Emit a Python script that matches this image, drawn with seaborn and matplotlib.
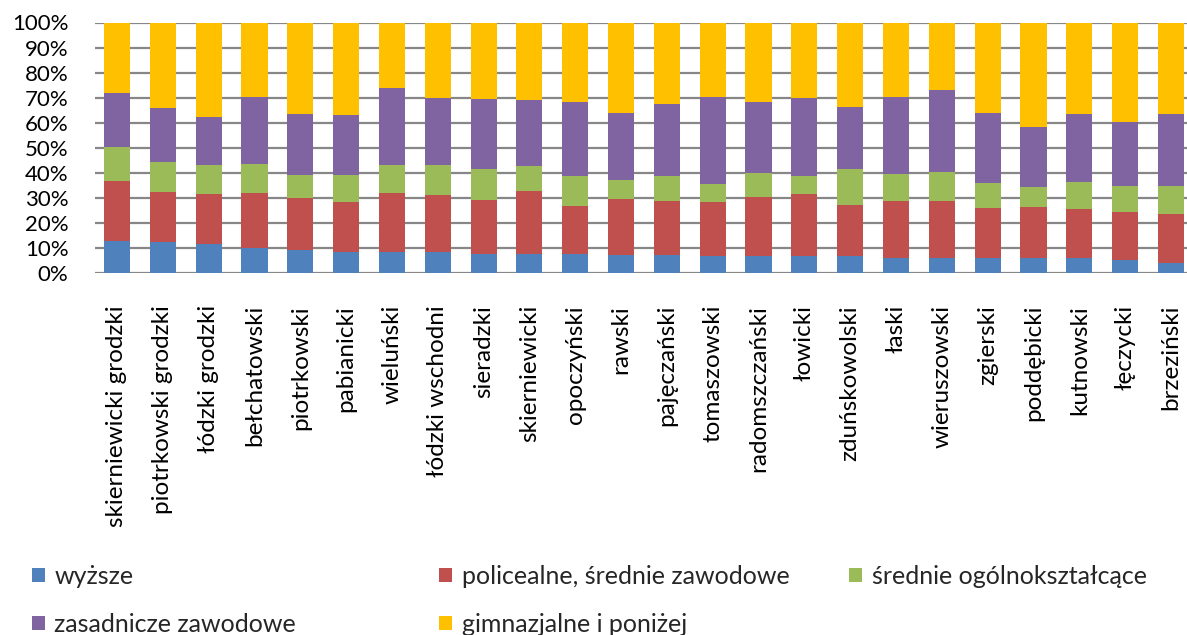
import matplotlib
matplotlib.use('Agg')
import matplotlib.pyplot as plt
import seaborn as sns
import numpy as np
from matplotlib.patches import Patch
from matplotlib.ticker import PercentFormatter

# Categories (powiaty)
powiaty = ['skierniewicki grodzki', 'piotrkowski grodzki', 'łódzki grodzki', 'bełchatowski',
           'piotrkowski', 'pabianicki', 'wieluński', 'łódzki wschodni', 'sieradzki',
           'skierniewicki', 'opoczyński', 'rawski', 'pajęczański', 'tomaszowski',
           'radomszczański', 'łowicki', 'zduńskowolski', 'łaski', 'wieruszowski',
           'zgierski', 'poddębicki', 'kutnowski', 'łęczycki', 'brzeziński']

# Shares in %
wyzsze = [12.7, 12.5, 11.7, 10.1, 9.3, 8.5, 8.4, 8.4, 7.7, 7.6, 7.6, 7.3,
          7.0, 6.9, 6.9, 6.9, 6.6, 6.1, 6.1, 6.0, 5.8, 5.8, 5.0, 4.0]
policealne = [24.2, 20.0, 19.9, 21.8, 20.8, 19.8, 23.5, 22.7, 21.4, 25.2, 19.2, 22.4,
              21.6, 21.4, 23.6, 24.6, 20.5, 22.6, 22.5, 20.0, 20.4, 19.6, 19.3, 19.5]
ogolne = [13.3, 11.9, 11.7, 11.7, 9.1, 11.0, 11.4, 11.9, 12.3, 10.0, 12.0, 7.6,
          10.2, 7.4, 9.5, 7.4, 14.3, 11.0, 11.6, 9.9, 8.2, 10.9, 10.5, 11.2]
zasadnicze = [21.8, 21.6, 19.1, 26.8, 24.3, 23.6, 30.7, 26.9, 28.1, 26.4, 29.5, 26.7,
              28.5, 34.4, 28.4, 31.1, 24.7, 30.4, 33.0, 27.8, 24.0, 27.0, 25.5, 28.9]
gimnazjalne = [28.0, 34.0, 37.6, 29.6, 36.5, 37.1, 26.0, 30.1, 30.5, 30.8, 31.7, 36.0,
               32.7, 29.9, 31.6, 30.0, 33.9, 29.9, 26.8, 36.3, 41.6, 36.7, 39.7, 36.4]

series = ['wyższe', 'policealne, średnie zawodowe', 'średnie ogólnokształcące',
          'zasadnicze zawodowe', 'gimnazjalne i poniżej']
colors = ['#4F81BD', '#C0504D', '#9BBB59', '#8064A2', '#FFC000']

sns.set_style('white')
plt.rcParams['font.family'] = ['Lato', 'DejaVu Sans']

fig = plt.figure(figsize=(11.87, 6.35), dpi=100)
ax = fig.add_axes([95 / 1187, 1 - 273 / 635, 1 - 95 / 1187, 250.5 / 635])

bottom = np.zeros(len(powiaty))
for vals, col in zip([wyzsze, policealne, ogolne, zasadnicze, gimnazjalne], colors):
    sns.barplot(x=powiaty, y=vals, bottom=bottom, color=col, saturation=1,
                width=0.57, errorbar=None, ax=ax, zorder=3, linewidth=0)
    bottom += np.array(vals)

ax.set_ylim(0, 100)
ax.set_xlim(-0.48, 23.35)
ax.set_yticks(np.arange(0, 101, 10))
ax.yaxis.set_major_formatter(PercentFormatter(decimals=0))
ax.grid(axis='y', color='#878787', linewidth=1.6, zorder=0)
ax.set_axisbelow(True)
for s in ax.spines.values():
    s.set_visible(False)
ax.tick_params(axis='y', length=0, pad=19, labelsize=16, colors='black')
ax.tick_params(axis='x', length=0, pad=23, labelsize=17.5, colors='black')
plt.setp(ax.get_xticklabels(), rotation=90)
ax.set_xlabel('')
ax.set_ylabel('')

# Legend: three columns placed like the original
handles = [Patch(facecolor=c, edgecolor='none') for c in colors]
cols = [([0, 3], 32 / 1187), ([1, 4], 439 / 1187), ([2], 849 / 1187)]
for idx, xpos in cols:
    fig.legend([handles[i] for i in idx], [series[i] for i in idx],
               loc='upper left', bbox_to_anchor=(xpos, 1 - 565 / 635),
               frameon=False, fontsize=18, handlelength=0.5, handleheight=0.5,
               handletextpad=0.4, labelspacing=1.0, borderaxespad=0, borderpad=0)

fig.savefig('out.png', dpi=100)
